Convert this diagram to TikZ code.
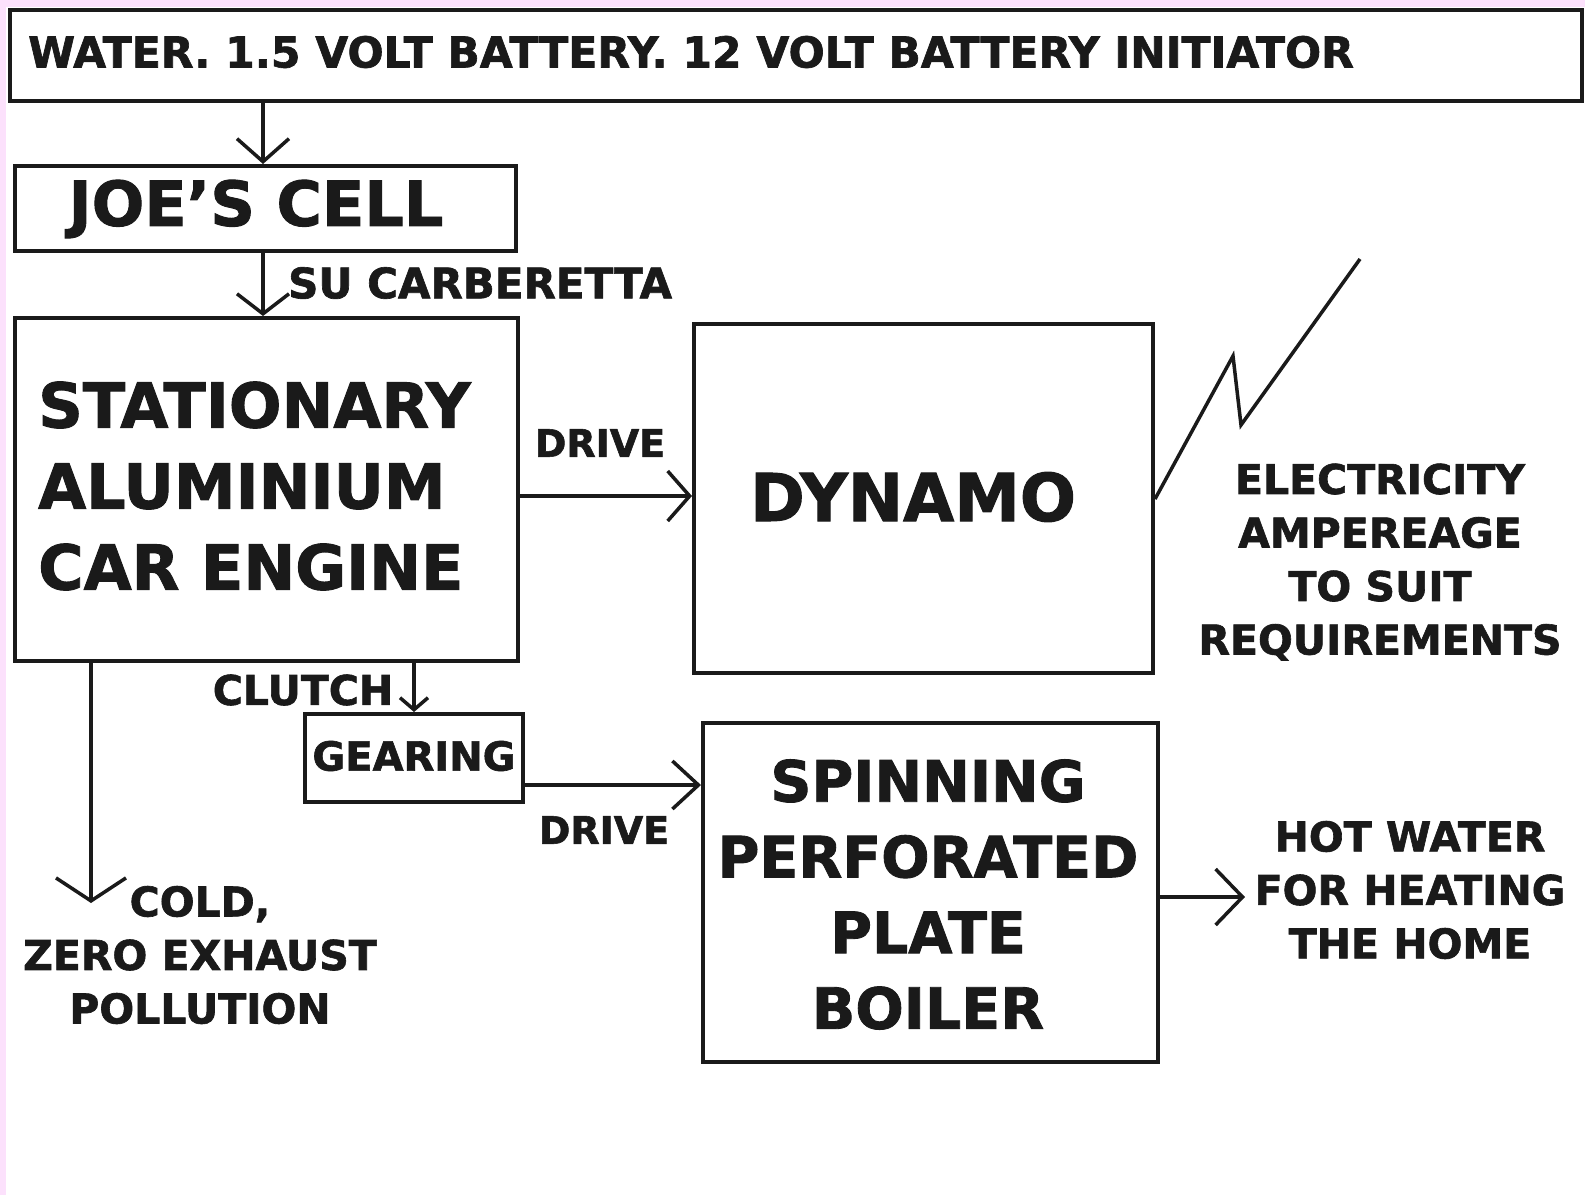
\documentclass[tikz,border=0pt]{standalone}
\usepackage{fontspec}
\setmainfont{DejaVu Sans}[BoldFeatures={FakeBold=1.5}]
\usetikzlibrary{arrows.meta}
\definecolor{pinkbg}{HTML}{FCE1FC}
\definecolor{ink}{HTML}{1A1A1A}
\begin{document}
\begin{tikzpicture}[x=1pt,y=-1pt,
  box/.style={draw=ink, line width=4pt, inner sep=0pt, rectangle},
  lbl/.style={font=\bfseries\fontsize{41}{53.5}\selectfont, align=center, inner sep=0pt, text=ink},
  big/.style={font=\bfseries\fontsize{62}{81}\selectfont, align=left, inner sep=0pt, text=ink},
  conn/.style={draw=ink, line width=3.5pt},
  ]
\useasboundingbox (0,0) rectangle (1585,1195);
\fill[pinkbg] (0,0) rectangle (1585,1195);
\fill[white] (6,7) rectangle (1585,1195);

% boxes
\node[box, minimum width=1572pt, minimum height=91pt] (top) at (796,55.5) {};
\node[lbl, anchor=west, font=\bfseries\fontsize{42.5}{50}\selectfont] (toptext) at (28,52) {WATER. 1.5 VOLT BATTERY. 12 VOLT BATTERY INITIATOR};

\node[box, minimum width=501pt, minimum height=85pt] (joe) at (265.5,208.5) {};
\node[big, font=\bfseries\fontsize{62}{70}\selectfont] (joetext) at (256,209) {JOE'S CELL};

\node[box, minimum width=503pt, minimum height=343pt] (engine) at (266.5,489.5) {};
\node[big, anchor=west] (enginetext) at (38,486) {STATIONARY\\ALUMINIUM\\CAR ENGINE};

\node[box, minimum width=459pt, minimum height=349pt] (dynamo) at (923.5,498.5) {};
\node[big, font=\bfseries\fontsize{66}{70}\selectfont] (dynamotext) at (913,497) {DYNAMO};

\node[box, minimum width=218pt, minimum height=88pt] (gear) at (414,758) {};
\node[lbl, font=\bfseries\fontsize{40}{50}\selectfont] (geartext) at (414,756) {GEARING};

\node[box, minimum width=455pt, minimum height=339pt] (spin) at (930.5,892.5) {};
\node[big, align=center, font=\bfseries\fontsize{57}{75.7}\selectfont] (spintext) at (928,894.5) {SPINNING\\PERFORATED\\PLATE\\BOILER};

% free texts
\node[lbl] (elec) at (1380,562) {ELECTRICITY\\AMPEREAGE\\TO SUIT\\REQUIREMENTS};
\node[lbl] (hot) at (1410,890) {HOT WATER\\FOR HEATING\\THE HOME};
\node[lbl] (cold) at (200,955) {COLD,\\ZERO EXHAUST\\POLLUTION};
\node[lbl, anchor=west, font=\bfseries\fontsize{42}{50}\selectfont] (su) at (288,283) {SU CARBERETTA};
\node[lbl, font=\bfseries\fontsize{38}{48}\selectfont] (drive1) at (600,443) {DRIVE};
\node[lbl] (clutch) at (303,690) {CLUTCH};
\node[lbl, font=\bfseries\fontsize{38}{48}\selectfont] (drive2) at (604,830) {DRIVE};

% helper coordinates
\coordinate (ax) at (263,0);
\coordinate (d1) at (0,496);
\coordinate (d2) at (0,785);
\coordinate (hw) at (0,897);
\coordinate (exx) at (91,0);
\coordinate (exend) at (91,903);
\coordinate (hotend) at (1245,897);
\coordinate (zs) at (0,499);
\coordinate (z1) at (1233,356);
\coordinate (z2) at (1241,425);
\coordinate (z3) at (1360,259);

% connectors
\draw[conn, -{Straight Barb[length=23pt,width=52pt]}] (top.south -| ax) -- (joe.north -| ax);
\draw[conn, -{Straight Barb[length=20pt,width=52pt]}] (joe.south -| ax) -- (engine.north -| ax);
\draw[conn, -{Straight Barb[length=22pt,width=50pt]}] (engine.east |- d1) -- (dynamo.west |- d1);
\draw[conn, -{Straight Barb[length=12pt,width=28pt]}] (engine.south -| gear.north) -- (gear.north);
\draw[conn, -{Straight Barb[length=23pt,width=70pt]}] (engine.south -| exx) -- (exend);
\draw[conn, -{Straight Barb[length=26pt,width=48pt]}] (gear.east |- d2) -- (spin.west |- d2);
\draw[conn, -{Straight Barb[length=27pt,width=56pt]}] (spin.east |- hw) -- (hotend);
\draw[conn, line join=miter] (dynamo.east |- zs) -- (z1) -- (z2) -- (z3);
\end{tikzpicture}
\end{document}
